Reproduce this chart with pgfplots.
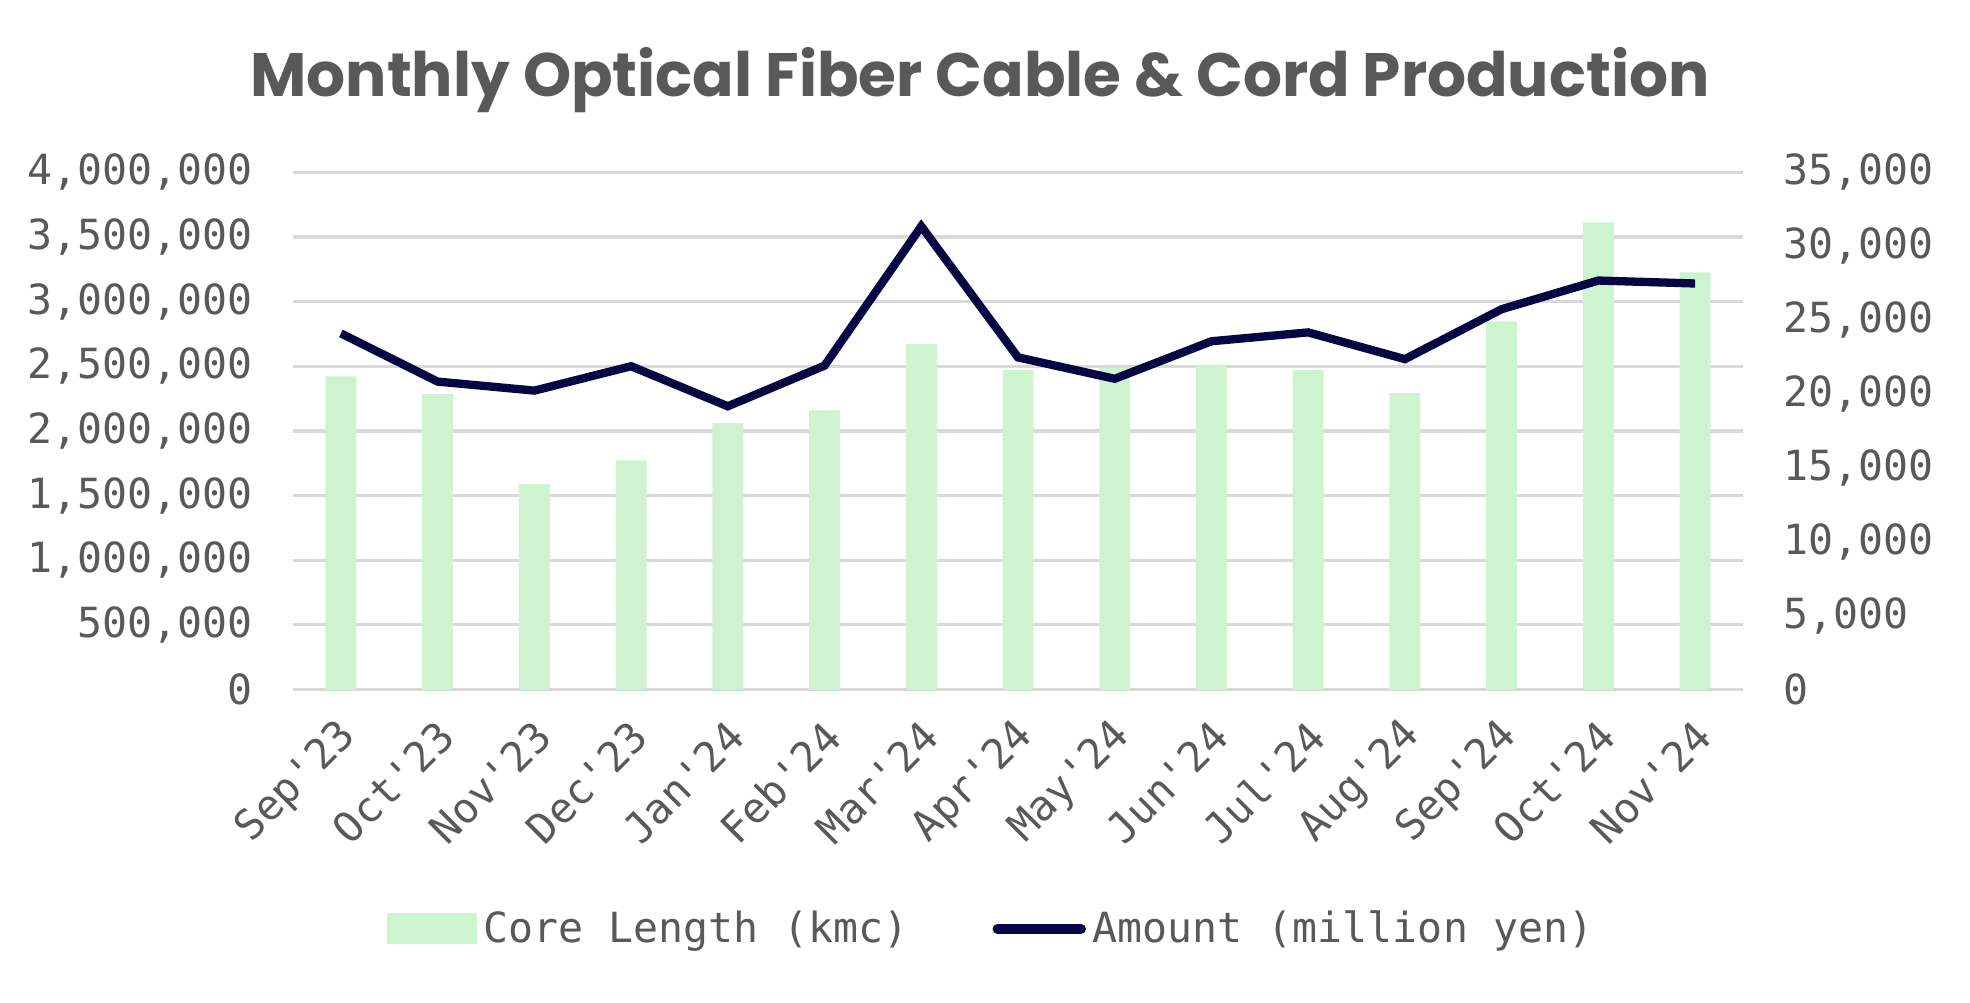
\documentclass[border=0pt]{standalone}
\usepackage{fontspec}
\usepackage{pgfplots}
\pgfplotsset{compat=1.18}
\setmonofont{DejaVu Sans Mono}
\newfontfamily\titlefont{Poppins}

\definecolor{txtgray}{RGB}{89,89,89}
\definecolor{gridgray}{RGB}{217,217,217}
\definecolor{barcol}{RGB}{206,243,207}
\definecolor{navy}{RGB}{8,6,66}

\begin{document}
\begin{tikzpicture}
\path (0,0) rectangle (20,10.18);
\node[font=\titlefont\bfseries\fontsize{17.7}{21}\selectfont, text=txtgray] at (9.95,9.37)
  {Monthly Optical Fiber Cable \& Cord Production};

% bars, left axis
\begin{axis}[
    at={(2.97cm,3.18cm)}, anchor=south west,
    scale only axis, width=14.73cm, height=5.25cm,
    xmin=-0.5, xmax=14.5,
    ymin=0, ymax=4000000,
    axis line style={draw=none},
    major tick length=0,
    ymajorgrids,
    grid style={gridgray, line width=0.9pt},
    xtick={0,...,14},
    xticklabels={Sep'23,Oct'23,Nov'23,Dec'23,Jan'24,Feb'24,Mar'24,Apr'24,May'24,Jun'24,Jul'24,Aug'24,Sep'24,Oct'24,Nov'24},
    ytick={0,500000,...,4000000},
    yticklabels={0,{500,000},{1,000,000},{1,500,000},{2,000,000},{2,500,000},{3,000,000},{3,500,000},{4,000,000}},
    scaled y ticks=false,
    tick label style={font=\ttfamily\fontsize{12}{14}\selectfont, text=txtgray},
    yticklabel style={xshift=-0.28cm},
    xticklabel style={rotate=45, anchor=east, xshift=-0.1cm, yshift=-0.35cm},
    ybar, bar width=0.32,
]
\addplot[fill=barcol, draw=none] coordinates {
    (0, 2423000) (1, 2285000) (2, 1588000) (3, 1773000) (4, 2061000)
    (5, 2160000) (6, 2671000) (7, 2470000) (8, 2490000) (9, 2508000)
    (10, 2470000) (11, 2293000) (12, 2848000) (13, 3613000) (14, 3227000)
};
\end{axis}

% line, right axis
\begin{axis}[
    at={(2.97cm,3.18cm)}, anchor=south west,
    scale only axis, width=14.73cm, height=5.25cm,
    xmin=-0.5, xmax=14.5,
    ymin=0, ymax=35000,
    axis x line=none,
    axis y line*=right,
    axis line style={draw=none},
    major tick length=0,
    xtick=\empty,
    ytick={0,5000,...,35000},
    yticklabels={0,{5,000},{10,000},{15,000},{20,000},{25,000},{30,000},{35,000}},
    scaled y ticks=false,
    tick label style={font=\ttfamily\fontsize{12}{14}\selectfont, text=txtgray},
    yticklabel style={xshift=0.28cm},
    legend style={at={(0.483,-0.463)}, anchor=center, draw=none,
        font=\ttfamily\fontsize{12}{14}\selectfont, text=txtgray,
        legend columns=2,
        /tikz/every even column/.append style={column sep=0.78cm}},
    legend cell align=left,
]
\addlegendimage{legend image code/.code={\fill[barcol] (0cm,-0.15cm) rectangle (0.9cm,0.15cm);}}
\addlegendentry{Core Length (kmc)}
\addplot[navy, line width=2.4pt,
    legend image code/.code={\draw[navy, line width=2.8pt, line cap=round] (0.05cm,0cm) -- (0.9cm,0cm);}]
  coordinates {
    (0, 24100) (1, 20840) (2, 20230) (3, 21880) (4, 19170)
    (5, 21920) (6, 31350) (7, 22480) (8, 21030) (9, 23570)
    (10, 24170) (11, 22360) (12, 25740) (13, 27680) (14, 27480)
};
\addlegendentry{Amount (million yen)}
\end{axis}
\end{tikzpicture}
\end{document}
